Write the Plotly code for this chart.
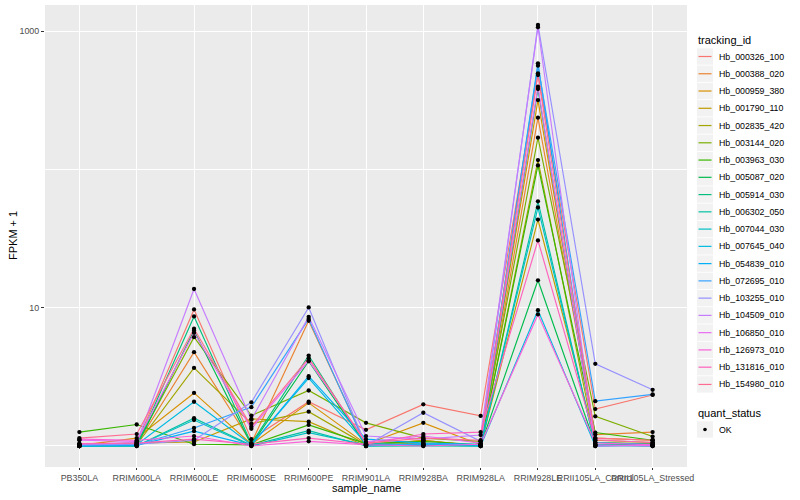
import plotly.graph_objects as go

sample_names = ["PB350LA", "RRIM600LA", "RRIM600LE", "RRIM600SE", "RRIM600PE",
                "RRIM901LA", "RRIM928BA", "RRIM928LA", "RRIM928LE",
                "RRII105LA_Control", "RRII105LA_Stressed"]

tracking_ids = ["Hb_000326_100", "Hb_000388_020", "Hb_000959_380", "Hb_001790_110",
                "Hb_002835_420", "Hb_003144_020", "Hb_003963_030", "Hb_005087_020",
                "Hb_005914_030", "Hb_006302_050", "Hb_007044_030", "Hb_007645_040",
                "Hb_054839_010", "Hb_072695_010", "Hb_103255_010", "Hb_104509_010",
                "Hb_106850_010", "Hb_126973_010", "Hb_131816_010", "Hb_154980_010"]

# FPKM + 1 per sample (order of sample_names)
hb_000326_100 = [1.02, 1.05, 9.72, 1.12, 2.09, 1.31, 2.00, 1.65, 496, 1.85, 2.34]
hb_000388_020 = [1.00, 1.03, 4.77, 1.05, 8.05, 1.02, 1.10, 1.00, 237, 1.21, 1.26]
hb_000959_380 = [1.01, 1.14, 2.42, 1.03, 2.05, 1.03, 1.47, 1.02, 318, 1.14, 1.10]
hb_001790_110 = [1.03, 1.05, 1.07, 1.57, 1.50, 1.00, 1.10, 1.00, 43.4, 1.10, 1.06]
hb_002835_420 = [1.00, 1.02, 3.67, 1.45, 1.77, 1.02, 1.05, 1.01, 117, 1.06, 1.04]
hb_003144_020 = [1.00, 1.03, 6.13, 1.66, 2.52, 1.47, 1.14, 1.08, 170, 1.64, 1.17]
hb_003963_030 = [1.26, 1.43, 1.03, 1.02, 1.42, 1.04, 1.08, 1.02, 107, 1.25, 1.10]
hb_005087_020 = [1.00, 1.00, 6.85, 1.02, 4.10, 1.01, 1.02, 1.01, 15.8, 1.02, 1.00]
hb_005914_030 = [1.00, 1.01, 8.65, 1.04, 4.51, 1.00, 1.01, 1.00, 382, 1.03, 1.02]
hb_006302_050 = [1.00, 1.00, 1.59, 1.01, 1.29, 1.00, 1.00, 1.00, 58.9, 1.00, 1.01]
hb_007044_030 = [1.00, 1.00, 1.54, 1.00, 1.25, 1.02, 1.03, 1.01, 53.1, 1.01, 1.00]
hb_007645_040 = [1.00, 1.02, 2.09, 1.02, 3.10, 1.04, 1.02, 1.00, 9.6, 1.00, 1.02]
hb_054839_010 = [1.00, 1.01, 1.28, 1.01, 3.20, 1.12, 1.05, 1.03, 586, 1.06, 1.03]
hb_072695_010 = [1.01, 1.02, 1.35, 1.91, 8.30, 1.00, 1.04, 1.02, 564, 2.11, 2.36]
hb_103255_010 = [1.02, 1.03, 1.10, 2.07, 10.05, 1.01, 1.74, 1.08, 1111, 3.93, 2.55]
hb_104509_010 = [1.03, 1.06, 13.66, 1.55, 8.60, 1.18, 1.12, 1.20, 1069, 1.02, 1.00]
hb_106850_010 = [1.10, 1.08, 6.59, 1.33, 4.15, 1.07, 1.18, 1.05, 397, 1.00, 1.01]
hb_126973_010 = [1.12, 1.10, 1.18, 1.00, 1.08, 1.02, 1.00, 1.03, 8.94, 1.05, 1.02]
hb_131816_010 = [1.04, 1.05, 1.12, 1.03, 1.14, 1.03, 1.22, 1.26, 30.7, 1.11, 1.06]
hb_154980_010 = [1.14, 1.22, 7.05, 1.38, 4.32, 1.05, 1.14, 1.10, 482, 1.14, 1.10]

series_values = [hb_000326_100, hb_000388_020, hb_000959_380, hb_001790_110,
                 hb_002835_420, hb_003144_020, hb_003963_030, hb_005087_020,
                 hb_005914_030, hb_006302_050, hb_007044_030, hb_007645_040,
                 hb_054839_010, hb_072695_010, hb_103255_010, hb_104509_010,
                 hb_106850_010, hb_126973_010, hb_131816_010, hb_154980_010]

palette = ["#F8766D", "#EA8331", "#D89000", "#C09B00", "#A3A500", "#7CAE00",
           "#39B600", "#00BB4E", "#00BF7D", "#00C1A3", "#00BFC4", "#00BAE0",
           "#00B0F6", "#35A2FF", "#9590FF", "#C77CFF", "#E76BF3", "#FA62DB",
           "#FF62BC", "#FF6C91"]

FONT = "Liberation Sans, Arial, Helvetica, sans-serif"

fig = go.Figure()
for name, vals, col in zip(tracking_ids, series_values, palette):
    fig.add_trace(go.Scatter(x=sample_names, y=vals, mode="lines", name=name,
                             line=dict(color=col, width=1.15), showlegend=False))

all_x = [s for vals in series_values for s in sample_names]
all_y = [v for vals in series_values for v in vals]
fig.add_trace(go.Scatter(x=all_x, y=all_y, mode="markers", name="OK",
                         marker=dict(color="black", size=4.3), showlegend=False))

# panel geometry in pixels
L, R, T, B = 45, 687, 5, 467
def px(x):
    return (x - L) / (R - L)
def py(y):
    return (B - y) / (B - T)

shapes = []
annotations = []

# legend: tracking_id
annotations.append(dict(x=px(696), y=py(40.5), xref="paper", yref="paper",
                        text="tracking_id", showarrow=False, xanchor="left",
                        yanchor="middle", font=dict(size=11, color="black", family=FONT)))
step = 17.26
for i, (name, col) in enumerate(zip(tracking_ids, palette)):
    cy = 56.5 + i * step
    shapes.append(dict(type="rect", xref="paper", yref="paper",
                       x0=px(697), x1=px(713), y0=py(cy - 8.2), y1=py(cy + 8.2),
                       fillcolor="#F2F2F2", line=dict(width=0)))
    shapes.append(dict(type="line", xref="paper", yref="paper",
                       x0=px(698.5), x1=px(711.5), y0=py(cy), y1=py(cy),
                       line=dict(color=col, width=1.2)))
    annotations.append(dict(x=px(717), y=py(cy), xref="paper", yref="paper",
                            text=name, showarrow=False, xanchor="left", yanchor="middle",
                            font=dict(size=8.8, color="black", family=FONT)))

# legend: quant_status
annotations.append(dict(x=px(696), y=py(412.5), xref="paper", yref="paper",
                        text="quant_status", showarrow=False, xanchor="left",
                        yanchor="middle", font=dict(size=11, color="black", family=FONT)))
ok_cy = 429.5
shapes.append(dict(type="rect", xref="paper", yref="paper",
                   x0=px(697), x1=px(713), y0=py(ok_cy - 8.2), y1=py(ok_cy + 8.2),
                   fillcolor="#F2F2F2", line=dict(width=0)))
shapes.append(dict(type="circle", xref="paper", yref="paper",
                   x0=px(703.2), x1=px(706.8), y0=py(ok_cy - 1.8), y1=py(ok_cy + 1.8),
                   fillcolor="black", line=dict(width=0)))
annotations.append(dict(x=px(717), y=py(ok_cy), xref="paper", yref="paper",
                        text="OK", showarrow=False, xanchor="left", yanchor="middle",
                        font=dict(size=8.8, color="black", family=FONT)))

# axis titles
annotations.append(dict(x=px(366), y=py(487.5), xref="paper", yref="paper",
                        text="sample_name", showarrow=False, xanchor="center",
                        yanchor="middle", font=dict(size=11, color="black", family=FONT)))
annotations.append(dict(x=px(13), y=py(236), xref="paper", yref="paper",
                        text="FPKM + 1", showarrow=False, xanchor="center",
                        yanchor="middle", textangle=-90,
                        font=dict(size=11, color="black", family=FONT)))

fig.update_layout(
    width=800, height=500, autosize=False,
    margin=dict(l=L, r=800 - R, t=T, b=500 - B, pad=0),
    paper_bgcolor="white", plot_bgcolor="#EBEBEB",
    font=dict(family=FONT, color="#4D4D4D"),
    showlegend=False,
    shapes=shapes, annotations=annotations,
    xaxis=dict(type="category", categoryorder="array", categoryarray=sample_names,
               range=[-0.6, len(sample_names) - 0.4], showgrid=True,
               gridcolor="white", gridwidth=1.1, zeroline=False, showline=False,
               ticks="outside", ticklen=2, tickwidth=1, tickcolor="#333333",
               tickangle=0, tickfont=dict(size=8.9, color="#4D4D4D", family=FONT)),
    yaxis=dict(type="log", range=[-0.152, 3.19], tickmode="array",
               tickvals=[10, 1000], ticktext=["10", "1000"], showgrid=True,
               gridcolor="white", gridwidth=1.1, zeroline=False, showline=False,
               ticks="outside", ticklen=3, tickwidth=1, tickcolor="#333333",
               tickfont=dict(size=8.9, color="#4D4D4D", family=FONT),
               minor=dict(tickmode="array", tickvals=[1, 100], showgrid=True,
                          gridcolor="white", gridwidth=0.55, ticks="")),
)

fig.write_html("out.html", config={"displayModeBar": False},
               post_script="document.body.style.margin='0';document.body.style.overflow='hidden';")
